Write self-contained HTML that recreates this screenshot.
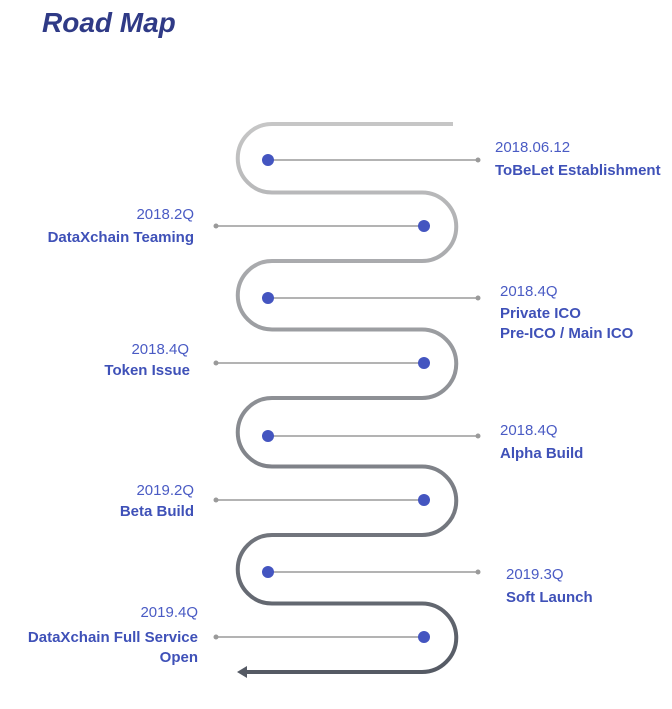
<!DOCTYPE html>
<html><head><meta charset="utf-8"><style>
html,body{margin:0;padding:0;background:#fff;}
svg{display:block;}
text{font-family:"Liberation Sans",sans-serif;font-size:15px;}
.d{fill:#4a5bc4;}
.t{fill:#3f51b8;font-weight:bold;}
</style></head><body>
<svg width="672" height="709" viewBox="0 0 672 709" xmlns="http://www.w3.org/2000/svg">
<defs>
<linearGradient id="g" gradientUnits="userSpaceOnUse" x1="0" y1="124" x2="0" y2="672">
<stop offset="0" stop-color="#c6c6c6"/><stop offset="1" stop-color="#555a64"/>
</linearGradient>
</defs>
<text x="42" y="32" style="font-size:28px;font-weight:bold;font-style:italic;fill:#2f3a86">Road Map</text>
<path d="M453 124 H272 A34.25 34.25 0 0 0 272 192.5 H422 A34.25 34.25 0 0 1 422 261 H272 A34.25 34.25 0 0 0 272 329.5 H422 A34.25 34.25 0 0 1 422 398 H272 A34.25 34.25 0 0 0 272 466.5 H422 A34.25 34.25 0 0 1 422 535 H272 A34.25 34.25 0 0 0 272 603.5 H422 A34.25 34.25 0 0 1 422 672 H246" fill="none" stroke="url(#g)" stroke-width="4"/>
<polygon points="237,672 247,666 247,678" fill="#555a64"/>
<g stroke="#9a9a9a" stroke-width="1.5">
<line x1="268" y1="160" x2="478" y2="160"/>
<line x1="216" y1="226" x2="424" y2="226"/>
<line x1="268" y1="298" x2="478" y2="298"/>
<line x1="216" y1="363" x2="424" y2="363"/>
<line x1="268" y1="436" x2="478" y2="436"/>
<line x1="216" y1="500" x2="424" y2="500"/>
<line x1="268" y1="572" x2="478" y2="572"/>
<line x1="216" y1="637" x2="424" y2="637"/>
</g>
<g fill="#9a9a9a">
<circle cx="478" cy="160" r="2.5"/><circle cx="216" cy="226" r="2.5"/>
<circle cx="478" cy="298" r="2.5"/><circle cx="216" cy="363" r="2.5"/>
<circle cx="478" cy="436" r="2.5"/><circle cx="216" cy="500" r="2.5"/>
<circle cx="478" cy="572" r="2.5"/><circle cx="216" cy="637" r="2.5"/>
</g>
<g fill="#4455c0">
<circle cx="268" cy="160" r="6"/><circle cx="424" cy="226" r="6"/>
<circle cx="268" cy="298" r="6"/><circle cx="424" cy="363" r="6"/>
<circle cx="268" cy="436" r="6"/><circle cx="424" cy="500" r="6"/>
<circle cx="268" cy="572" r="6"/><circle cx="424" cy="637" r="6"/>
</g>
<text class="d" x="495" y="152">2018.06.12</text>
<text class="t" x="495" y="175">ToBeLet Establishment</text>
<g text-anchor="end">
<text class="d" x="194" y="219">2018.2Q</text>
<text class="t" x="194" y="242">DataXchain Teaming</text>
<text class="d" x="189" y="354">2018.4Q</text>
<text class="t" x="190" y="375">Token Issue</text>
<text class="d" x="194" y="495">2019.2Q</text>
<text class="t" x="194" y="516">Beta Build</text>
<text class="d" x="198" y="617">2019.4Q</text>
<text class="t" x="198" y="642">DataXchain Full Service</text>
<text class="t" x="198" y="662">Open</text>
</g>
<text class="d" x="500" y="296">2018.4Q</text>
<text class="t" x="500" y="318">Private ICO</text>
<text class="t" x="500" y="338">Pre-ICO / Main ICO</text>
<text class="d" x="500" y="435">2018.4Q</text>
<text class="t" x="500" y="458">Alpha Build</text>
<text class="d" x="506" y="579">2019.3Q</text>
<text class="t" x="506" y="602">Soft Launch</text>
</svg>
</body></html>
